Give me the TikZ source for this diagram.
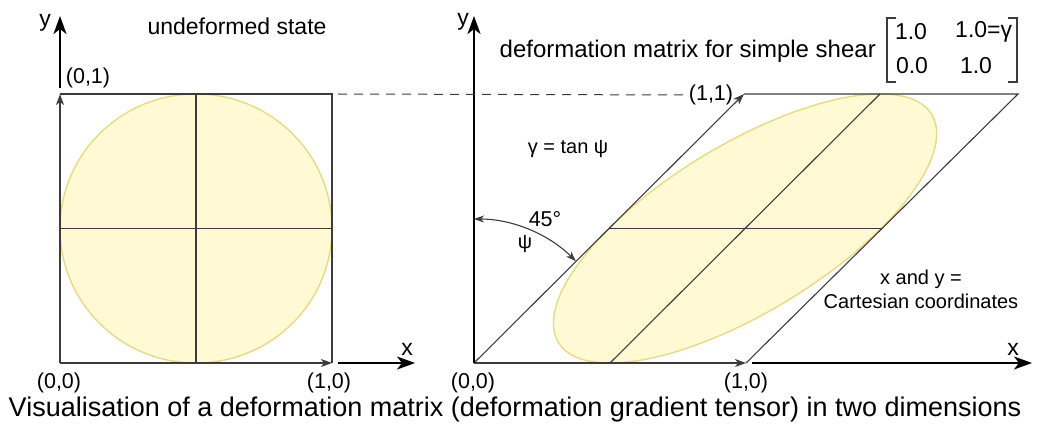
\documentclass[tikz,border=0pt]{standalone}
\usepackage{fontspec}
\setmainfont{Liberation Sans}
\usetikzlibrary{arrows.meta}
\definecolor{fillyel}{HTML}{FFFAD4}
\definecolor{edgeyel}{HTML}{E8D986}
\definecolor{edgegray}{HTML}{3C3C3C}
\tikzset{
  edge/.style={draw=edgegray, line width=1.1pt},
  smallarr/.style={-{Stealth[length=11pt,width=8pt,inset=3pt]}},
  axisarr/.style={draw=black, line width=2.3pt, -{Stealth[length=18pt,width=13pt,inset=5pt]}},
  lbl/.style={inner sep=0pt, font=\fontsize{20}{24}\selectfont},
  crd/.style={inner sep=0pt, font=\fontsize{21.5}{25}\selectfont},
  biglbl/.style={inner sep=0pt, font=\fontsize{23}{27}\selectfont},
  ell/.style={fill=fillyel, draw=edgeyel, line width=1.4pt},
}
\begin{document}
\begin{tikzpicture}[x=1pt,y=-1pt]
\useasboundingbox (0,0) rectangle (1046,430);
% ---------- left: undeformed ----------
\coordinate (A00) at (60,363);
\coordinate (A10) at (332,363);
\coordinate (A11) at (332,94);
\coordinate (A01) at (60,94);
\coordinate (AmT) at (196,94);
\coordinate (AmB) at (196,363);
\coordinate (AmL) at (60,228.5);
\coordinate (AmR) at (332,228.5);
\path[ell] (196,228.5) ellipse [x radius=136pt, y radius=134.5pt];
\draw[edge] (AmT) -- (AmB);
\draw[edge] (AmL) -- (AmR);
\draw[edge] (A01) -- (A11) -- (A10);
\draw[edge,smallarr] (A00) -- (A10);
\draw[edge,smallarr] (A00) -- (A01);
\coordinate (AyS) at (60,88);
\coordinate (AyE) at (60,16);
\coordinate (AxS) at (338,363);
\coordinate (AxE) at (415,363);
\draw[axisarr] (AyS) -- (AyE);
\draw[axisarr] (AxS) -- (AxE);
\node[biglbl] (ly) at (45,23) {y};
\node[biglbl] (lx) at (407,349) {x};
\node[biglbl] (title1) at (237,26) {undeformed state};
\node[crd] (l01) at (88,78) {(0,1)};
\node[crd] (l00) at (59,383) {(0,0)};
\node[crd] (l10) at (329,383) {(1,0)};
% ---------- right: sheared ----------
\coordinate (B00) at (474,363);
\coordinate (B10) at (746,363);
\coordinate (B01) at (744,94);
\coordinate (B11) at (1018,94);
\begin{scope}[shift={(474,363)}, xslant=1.004]
  \path[ell] (136,-134.5) ellipse [x radius=136pt, y radius=134.5pt];
\end{scope}
\coordinate (BmL) at (609,228.5);
\coordinate (BmR) at (881,228.5);
\coordinate (BmB) at (610,363);
\coordinate (BmT) at (880,94);
\draw[edge] (BmL) -- (BmR);
\draw[edge] (BmB) -- (BmT);
\draw[edge] (B01) -- (B11) -- (B10);
\draw[edge,smallarr] (B00) -- (B10);
\draw[edge,smallarr] (B00) -- (B01);
\coordinate (ByE) at (474,16);
\coordinate (BxS) at (752,363);
\coordinate (BxE) at (1032,363);
\draw[axisarr] (B00) -- (ByE);
\draw[axisarr] (BxS) -- (BxE);
% dashed guide
\coordinate (DS) at (338,94);
\node[crd] (l11) at (711,95) {(1,1)};
\draw[edgegray, line width=1pt, dash pattern=on 9pt off 7pt] (DS) -- (l11.west);
% angle arc
\coordinate (arcS) at (474,219);
\draw[edgegray, line width=1.1pt, {Stealth[length=10pt,width=7pt,inset=3pt]}-{Stealth[length=10pt,width=7pt,inset=3pt]}]
  (arcS) arc[start angle=90, end angle=45, radius=144pt];
\node[biglbl] (ry) at (463,22) {y};
\node[biglbl] (rx) at (1013,349) {x};
\node[crd] (r00) at (473,383) {(0,0)};
\node[crd] (r10) at (746,383) {(1,0)};
\node[lbl] (gam) at (568,149) {γ = tan ψ};
\node[crd] (a45) at (545,219) {45°};
\node[lbl] (psi) at (525,244) {ψ};
\node[lbl, align=center] (cart) at (921,289) {x and y =\\Cartesian coordinates};
\node[inner sep=0pt, font=\fontsize{24}{28}\selectfont, anchor=east] (dm) at (876,51) {deformation matrix for simple shear};
% matrix
\coordinate (mL1) at (896,18);
\coordinate (mL2) at (887,18);
\coordinate (mL3) at (887,82);
\coordinate (mL4) at (896,82);
\coordinate (mR1) at (1008,18);
\coordinate (mR2) at (1017,18);
\coordinate (mR3) at (1017,82);
\coordinate (mR4) at (1008,82);
\draw[edgegray, line width=1.2pt] (mL1) -- (mL2) -- (mL3) -- (mL4);
\draw[edgegray, line width=1.2pt] (mR1) -- (mR2) -- (mR3) -- (mR4);
\node[biglbl] (m11) at (911,32) {1.0};
\node[biglbl, anchor=west] (m12) at (955,32) {1.0=γ};
\node[biglbl] (m21) at (912,66) {0.0};
\node[biglbl] (m22) at (976,66) {1.0};
% caption
\node[inner sep=0pt, font=\fontsize{27}{32}\selectfont] (cap) at (515,410)
  {Visualisation of a deformation matrix (deformation gradient tensor) in two dimensions};
\end{tikzpicture}
\end{document}
